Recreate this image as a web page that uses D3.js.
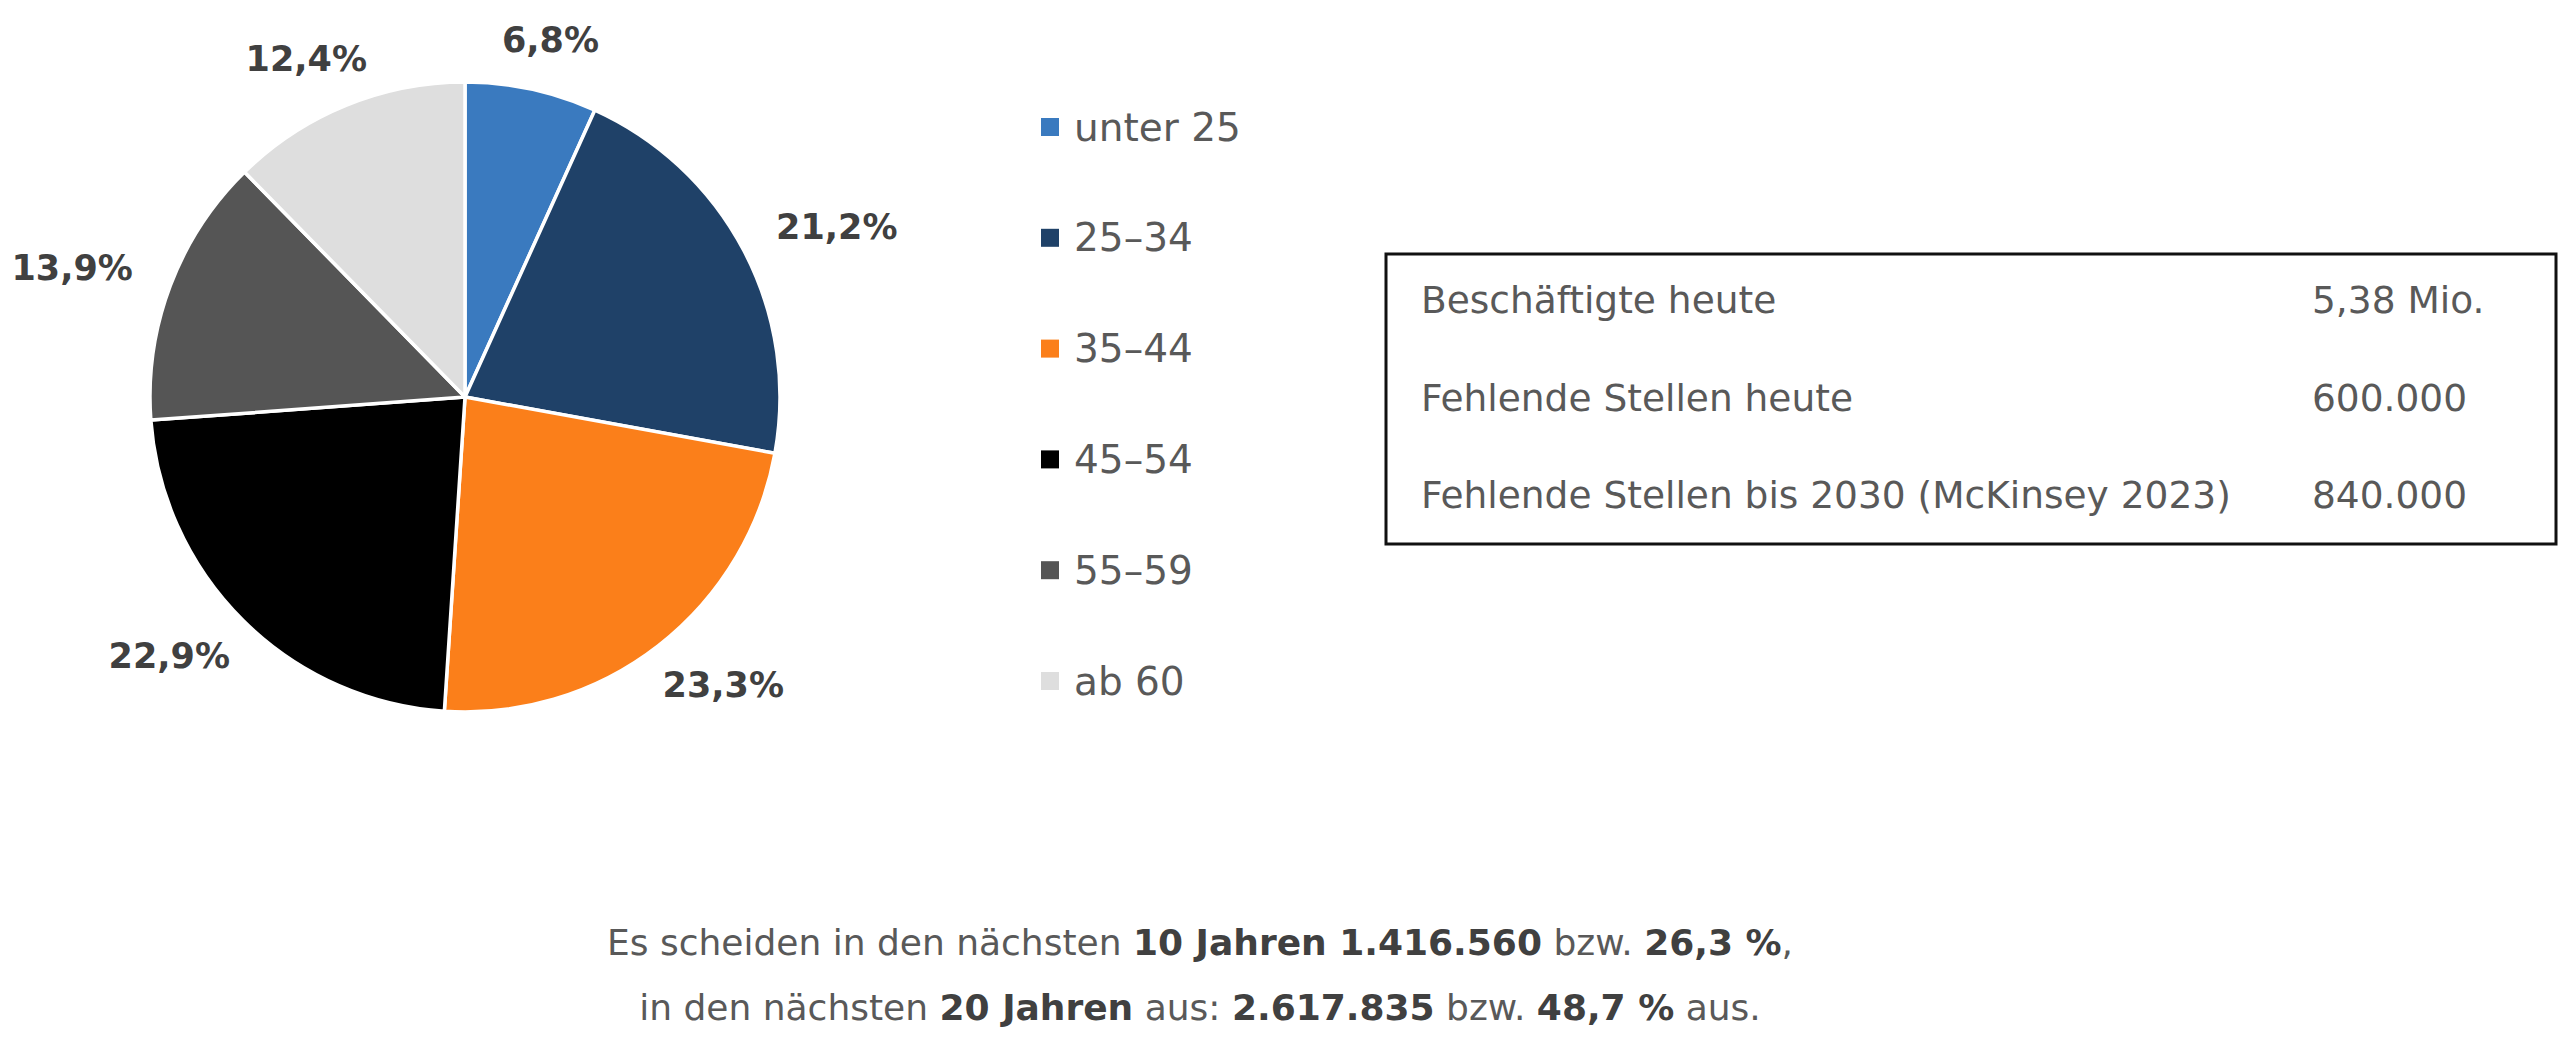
<!DOCTYPE html>
<html>
<head>
<meta charset="utf-8">
<script src="https://cdn.jsdelivr.net/npm/d3@7"></script>
<style>
  body { margin: 0; background: #fff; }
  text { font-family: "DejaVu Sans", sans-serif; }
</style>
</head>
<body>
<script>
// age groups and their share of employees (%)
var categories = ["unter 25", "25–34", "35–44", "45–54", "55–59", "ab 60"];
var shares = [6.8, 21.2, 23.3, 22.9, 13.9, 12.4];
var sliceColors = ["#3a7abf", "#1f4168", "#fb7f1a", "#000000", "#555555", "#dedede"];

// key figures box
var factLabels = ["Beschäftigte heute", "Fehlende Stellen heute", "Fehlende Stellen bis 2030 (McKinsey 2023)"];
var factValues = ["5,38 Mio.", "600.000", "840.000"];

// footnote, [text, bold]
var noteLine1 = [["Es scheiden in den nächsten ", false], ["10 Jahren 1.416.560", true], [" bzw. ", false], ["26,3 %", true], [",", false]];
var noteLine2 = [["in den nächsten ", false], ["20 Jahren", true], [" aus: ", false], ["2.617.835", true], [" bzw. ", false], ["48,7 %", true], [" aus.", false]];

var width = 2560, height = 1056;
var cx = 465, cy = 397, radius = 315;

var svg = d3.select("body").append("svg")
    .attr("width", width)
    .attr("height", height);

svg.append("rect").attr("width", width).attr("height", height).attr("fill", "#fff");

var color = d3.scaleOrdinal().domain(categories).range(sliceColors);

var pie = d3.pie().sort(null).value(function(d) { return d.v; });
var arcs = pie(categories.map(function(c, i) { return {c: c, v: shares[i]}; }));

var arc = d3.arc().innerRadius(0).outerRadius(radius);

var g = svg.append("g").attr("transform", "translate(" + cx + "," + cy + ")");

g.selectAll("path")
  .data(arcs)
  .enter()
  .append("path")
  .attr("d", arc)
  .attr("fill", function(d) { return color(d.data.c); })
  .attr("stroke", "#fff")
  .attr("stroke-width", 3.5)
  .attr("stroke-linejoin", "round");

// outside-end labels: the label box sits just outside the rim
var gap = 32;
g.selectAll("text.pct")
  .data(arcs)
  .enter()
  .append("text")
  .attr("class", "pct")
  .attr("text-anchor", "middle")
  .attr("dominant-baseline", "central")
  .style("font-size", "35px")
  .style("font-weight", "bold")
  .style("fill", "#404040")
  .text(function(d) { return d3.format(".1f")(d.data.v).replace(".", ",") + "%"; })
  .attr("transform", function(d) {
    var a = (d.startAngle + d.endAngle) / 2;
    var s = Math.sin(a), c = Math.cos(a);
    var w = this.getComputedTextLength(), h = 36;
    var x = (radius + gap) * s + (w / 2) * s * 1.2;
    var y = -(radius + gap) * c - (h / 2) * c;
    return "translate(" + x + "," + y + ")";
  });

// legend
var legendY = d3.scalePoint().domain(categories).range([127, 681]);
var legend = svg.append("g").selectAll("g")
  .data(categories)
  .enter()
  .append("g")
  .attr("transform", function(d) { return "translate(1041," + legendY(d) + ")"; });

legend.append("rect")
  .attr("x", 0).attr("y", -9)
  .attr("width", 18).attr("height", 18)
  .attr("fill", function(d) { return color(d); });

legend.append("text")
  .attr("x", 33)
  .attr("dominant-baseline", "central")
  .style("font-size", "39px")
  .style("fill", "#595959")
  .text(function(d) { return d; });

// key figures box
svg.append("rect")
  .attr("x", 1386).attr("y", 254)
  .attr("width", 1170).attr("height", 290)
  .attr("fill", "none")
  .attr("stroke", "#111")
  .attr("stroke-width", 3);

var rowY = d3.scalePoint().domain(factLabels).range([300, 495]);
var rows = svg.append("g").selectAll("g")
  .data(factLabels)
  .enter()
  .append("g")
  .attr("transform", function(d) { return "translate(0," + rowY(d) + ")"; });

rows.append("text")
  .attr("x", 1421)
  .attr("dominant-baseline", "central")
  .style("font-size", "37.5px")
  .style("fill", "#595959")
  .text(function(d) { return d; });

rows.append("text")
  .attr("x", 2312)
  .attr("dominant-baseline", "central")
  .style("font-size", "37.5px")
  .style("fill", "#595959")
  .text(function(d, i) { return factValues[i]; });

// footnote
[noteLine1, noteLine2].forEach(function(line, li) {
  var t = svg.append("text")
    .attr("x", 1200)
    .attr("y", 942 + li * 65)
    .attr("text-anchor", "middle")
    .attr("dominant-baseline", "central")
    .style("font-size", "36px")
    .style("fill", "#595959");
  t.selectAll("tspan")
    .data(line)
    .enter()
    .append("tspan")
    .style("font-weight", function(d) { return d[1] ? "bold" : "normal"; })
    .style("fill", function(d) { return d[1] ? "#404040" : "#595959"; })
    .text(function(d) { return d[0]; });
});
</script>
</body>
</html>
